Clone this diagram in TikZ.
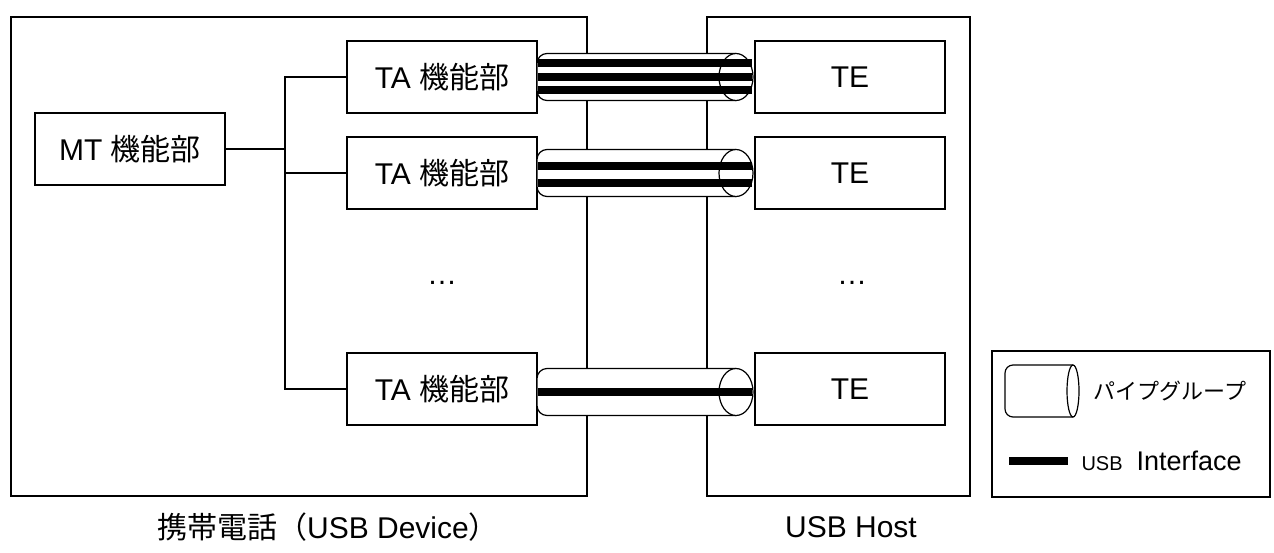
\documentclass[tikz,border=0pt]{standalone}
\usepackage{fontspec}
\setmainfont{Liberation Sans}
\newfontfamily\jpfont{Noto Sans CJK JP}
\begin{document}
\begin{tikzpicture}[x=1pt,y=-1pt,
  frame/.style={draw,line width=1.2pt},
  unit/.style={draw,line width=1.2pt,minimum width=190pt,minimum height=72pt,inner sep=0pt,font=\fontsize{30}{36}\selectfont},
  pipe/.style={draw,line width=1.2pt,fill=white},
  usb/.style={line width=7.5pt},
  caption/.style={font=\fontsize{30}{36}\selectfont}]
\useasboundingbox (0,0) rectangle (1274,552);
\draw[frame] (11,17) rectangle (587,496);
\draw[frame] (707,17) rectangle (970,496);
\draw[frame] (992,351) rectangle (1270,497);
\node[unit] (mt) at (130,149) {MT {\jpfont 機能部}};
\node[unit] (ta1) at (442,77) {TA {\jpfont 機能部}};
\node[unit] (ta2) at (442,173) {TA {\jpfont 機能部}};
\node[unit] (ta3) at (442,389) {TA {\jpfont 機能部}};
\node[unit] (te1) at (850,77) {TE};
\node[unit] (te2) at (850,173) {TE};
\node[unit] (te3) at (850,389) {TE};
\node[caption] (dotsa) at (442,283) {…};
\node[caption] (dotsb) at (852,283) {…};
\coordinate (fork) at (285,149);
\draw[line width=1.2pt] (mt.east) -- (fork);
\draw[line width=1.2pt] (ta1.west) -| (fork) |- (ta3.west);
\draw[line width=1.2pt] (fork |- ta2.west) -- (ta2.west);
% pipe groups
\filldraw[pipe] (736,53.5) [rounded corners=10pt] -- (537,53.5) -- (537,100.5) [sharp corners] -- (736,100.5);
\draw[pipe] (736,77) ellipse [x radius=17pt,y radius=23.5pt];
\filldraw[pipe] (736,149.5) [rounded corners=10pt] -- (537,149.5) -- (537,196.5) [sharp corners] -- (736,196.5);
\draw[pipe] (736,173) ellipse [x radius=17pt,y radius=23.5pt];
\filldraw[pipe] (736,368.5) [rounded corners=10pt] -- (537,368.5) -- (537,415.5) [sharp corners] -- (736,415.5);
\draw[pipe] (736,392) ellipse [x radius=17pt,y radius=23.5pt];
\draw[usb,shorten >=2pt] ([yshift=14pt]ta1.east) -- ([yshift=14pt]te1.west);
\draw[usb,shorten >=2pt] (ta1.east) -- (te1.west);
\draw[usb,shorten >=2pt] ([yshift=-13pt]ta1.east) -- ([yshift=-13pt]te1.west);
\draw[usb,shorten >=2pt] ([yshift=7pt]ta2.east) -- ([yshift=7pt]te2.west);
\draw[usb,shorten >=2pt] ([yshift=-10pt]ta2.east) -- ([yshift=-10pt]te2.west);
\draw[usb,shorten >=2pt] ([yshift=-3pt]ta3.east) -- ([yshift=-3pt]te3.west);
% legend
\filldraw[pipe] (1073,365) [rounded corners=8pt] -- (1005,365) -- (1005,417) [sharp corners] -- (1073,417);
\draw[pipe] (1073,391) ellipse [x radius=6pt,y radius=26pt];
\node[anchor=west,font=\fontsize{22}{26}\selectfont\jpfont] (pipelbl) at (1090,391) {パイプグループ};
\draw[usb] (1009,461) -- (1068,461);
\node[anchor=west,font=\fontsize{27}{32}\selectfont] (usblbl) at (1078,461) {{\fontsize{20}{24}\selectfont USB}\hspace{14pt}Interface};
\node[caption] (dev) at (328,527) {{\jpfont 携帯電話（}USB Device{\jpfont ）}};
\node[caption] (host) at (851,527) {USB Host};
\end{tikzpicture}
\end{document}
